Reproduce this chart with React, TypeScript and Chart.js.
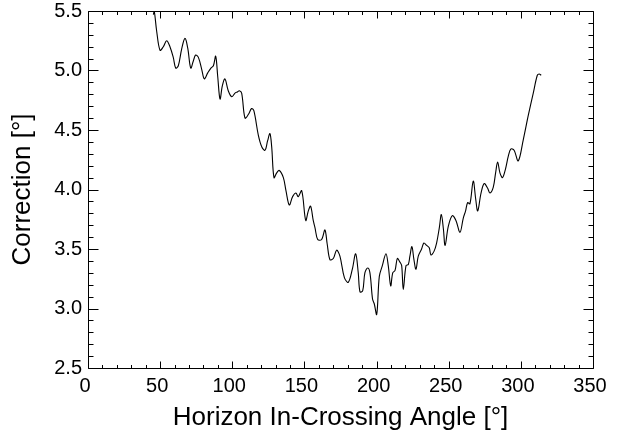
import React, { useEffect, useRef } from "react";
import { Chart, registerables } from "chart.js";

Chart.register(...registerables);

// Horizon in-crossing angle [deg]
const angles: number[] = [
  45.3, 45.9, 47.6, 49.9, 52.2, 54.5, 56.8, 59.1, 60.8, 62.6,
  64.9, 67.2, 69.1, 71.2, 73.0, 74.6, 76.5, 78.8, 80.6, 83.0,
  85.2, 86.9, 88.5, 89.9, 91.5, 93.1, 94.9, 97.2, 99.6, 101.9,
  103.5, 104.9, 106.5, 108.8, 111.1, 113.4, 115.0, 118.0, 120.4, 122.7,
  124.5, 126.1, 127.3, 128.9, 130.8, 132.6, 135.4, 137.2, 139.5, 141.8,
  144.1, 145.7, 148.1, 150.9, 152.7, 154.3, 156.1, 157.3, 159.2, 161.9,
  164.2, 165.8, 167.7, 170.0, 172.3, 174.6, 177.7, 180.4, 183.2, 185.5,
  187.3, 188.5, 190.4, 191.9, 193.8, 195.4, 197.2, 198.4, 200.1, 201.9,
  204.0, 206.5, 208.1, 209.8, 211.2, 212.8, 214.4, 216.2, 217.4, 218.5,
  220.4, 222.0, 223.1, 224.5, 225.9, 227.3, 228.9, 231.2, 232.8, 234.7,
  236.5, 237.7, 239.8, 241.6, 243.5, 244.9, 246.3, 247.5, 249.7, 252.5,
  255.0, 257.8, 260.1, 261.7, 263.1, 264.7, 267.0, 268.7, 270.1, 272.4,
  274.6, 277.0, 278.6, 280.9, 282.5, 283.9, 285.5, 287.3, 289.3, 291.3,
  293.0, 295.3, 298.2, 301.7, 305.1, 308.6, 311.4, 312.7, 314.1,
];

// Correction [deg]
const corrections: number[] = [
  5.47, 5.5, 5.33, 5.17, 5.2, 5.25, 5.2, 5.11, 5.02, 5.04,
  5.18, 5.27, 5.19, 5.02, 5.08, 5.13, 5.11, 5.01, 4.93, 4.98,
  5.02, 5.04, 5.12, 4.95, 4.76, 4.87, 4.93, 4.83, 4.78, 4.81,
  4.82, 4.83, 4.81, 4.6, 4.63, 4.68, 4.66, 4.46, 4.36, 4.33,
  4.41, 4.47, 4.36, 4.1, 4.14, 4.16, 4.1, 3.99, 3.87, 3.94,
  3.97, 3.94, 3.99, 3.74, 3.82, 3.86, 3.74, 3.68, 3.58, 3.58,
  3.66, 3.54, 3.41, 3.42, 3.49, 3.44, 3.26, 3.22, 3.33, 3.46,
  3.3, 3.14, 3.15, 3.3, 3.34, 3.3, 3.08, 3.04, 2.95, 3.27,
  3.36, 3.46, 3.36, 3.19, 3.3, 3.32, 3.42, 3.39, 3.36, 3.16,
  3.36, 3.37, 3.44, 3.52, 3.41, 3.33, 3.44, 3.5, 3.55, 3.53,
  3.51, 3.45, 3.48, 3.55, 3.68, 3.79, 3.67, 3.53, 3.69, 3.78,
  3.74, 3.64, 3.76, 3.82, 3.89, 3.88, 4.07, 3.92, 3.82, 3.97,
  4.05, 4.01, 3.97, 4.02, 4.14, 4.23, 4.14, 4.1, 4.17, 4.28,
  4.34, 4.33, 4.24, 4.42, 4.62, 4.81, 4.96, 4.97, 4.96,
];

const xMin = 0;
const xMax = 350;
const xMajorStep = 50;
const xMinorStep = 10;
const yMin = 2.5;
const yMax = 5.5;
const yMajorStep = 0.5;
const yMinorStep = 0.1;

const xTitle = "Horizon In-Crossing Angle [°]";
const yTitle = "Correction [°]";

const FONT = "'Liberation Sans', Arial, Helvetica, sans-serif";

const framePlugin = {
  id: "idlFrame",
  afterDatasetsDraw(chart: any) {
    const { ctx, chartArea, scales } = chart;
    const xs = scales.x;
    const ys = scales.y;
    const left = Math.round(chartArea.left) + 0.5;
    const right = Math.round(chartArea.right) + 0.5;
    const top = Math.round(chartArea.top) + 0.5;
    const bottom = Math.round(chartArea.bottom) + 0.5;
    ctx.save();
    ctx.strokeStyle = "#000";
    ctx.lineWidth = 1;
    ctx.beginPath();
    ctx.moveTo(left, top);
    ctx.lineTo(right, top);
    ctx.lineTo(right, bottom);
    ctx.lineTo(left, bottom);
    ctx.closePath();
    // x ticks (bottom and top, pointing inward)
    const nx = Math.round((xMax - xMin) / xMinorStep);
    for (let i = 0; i <= nx; i++) {
      const v = xMin + i * xMinorStep;
      const px = Math.round(xs.getPixelForValue(v)) + 0.5;
      const major = Math.abs(v / xMajorStep - Math.round(v / xMajorStep)) < 1e-6;
      const len = major ? 7 : 3.5;
      ctx.moveTo(px, bottom);
      ctx.lineTo(px, bottom - len);
      ctx.moveTo(px, top);
      ctx.lineTo(px, top + len);
    }
    // y ticks (left and right, pointing inward)
    const ny = Math.round((yMax - yMin) / yMinorStep);
    for (let i = 0; i <= ny; i++) {
      const v = yMin + i * yMinorStep;
      const py = Math.round(ys.getPixelForValue(v)) + 0.5;
      const major = i % Math.round(yMajorStep / yMinorStep) === 0;
      const len = major ? 10 : 5;
      ctx.moveTo(left, py);
      ctx.lineTo(left + len, py);
      ctx.moveTo(right, py);
      ctx.lineTo(right - len, py);
    }
    ctx.stroke();
    ctx.restore();
  },
};

export default function App() {
  const canvasRef = useRef<HTMLCanvasElement | null>(null);

  useEffect(() => {
    document.body.style.margin = "0";
    const canvas = canvasRef.current;
    if (!canvas) return;
    const points = angles.map((a, i) => ({ x: a, y: corrections[i] }));
    const chart = new Chart(canvas, {
      type: "line",
      data: {
        datasets: [
          {
            data: points,
            borderColor: "#000",
            borderWidth: 1.1,
            pointRadius: 0,
            tension: 0.35,
            fill: false,
          },
        ],
      },
      options: {
        animation: false,
        responsive: false,
        devicePixelRatio: 1,
        layout: { padding: { top: 11, right: 30, left: 0, bottom: 0 } },
        plugins: {
          legend: { display: false },
          tooltip: { enabled: false },
        },
        scales: {
          x: {
            type: "linear",
            min: xMin,
            max: xMax,
            grid: { display: false, drawTicks: false, tickLength: 0 },
            border: { display: false },
            ticks: {
              stepSize: xMajorStep,
              color: "#000",
              padding: 6,
              labelOffset: -3,
              maxRotation: 0,
              autoSkip: false,
              font: { family: FONT, size: 20 },
              callback: (v: any) => String(v),
            },
            title: {
              display: true,
              text: xTitle,
              color: "#000",
              padding: { top: 0, bottom: 3 },
              font: { family: FONT, size: 26 },
            },
            afterFit: (s: any) => {
              s.height = 68;
              s.paddingLeft = 0;
              s.paddingRight = 0;
            },
          },
          y: {
            type: "linear",
            min: yMin,
            max: yMax,
            grid: { display: false, drawTicks: false, tickLength: 0 },
            border: { display: false },
            ticks: {
              stepSize: yMajorStep,
              color: "#000",
              padding: 6,
              autoSkip: false,
              font: { family: FONT, size: 20 },
              callback: (v: any) => Number(v).toFixed(1),
            },
            title: {
              display: true,
              text: yTitle,
              color: "#000",
              padding: { top: 7, bottom: 0 },
              font: { family: FONT, size: 26 },
            },
            afterFit: (s: any) => {
              s.width = 88;
              s.paddingTop = 0;
              s.paddingBottom = 0;
            },
          },
        },
      },
      plugins: [framePlugin],
    });
    return () => chart.destroy();
  }, []);

  return (
    <div style={{ width: 623, height: 436 }}>
      <canvas ref={canvasRef} width={623} height={436} style={{ display: "block" }} />
    </div>
  );
}
